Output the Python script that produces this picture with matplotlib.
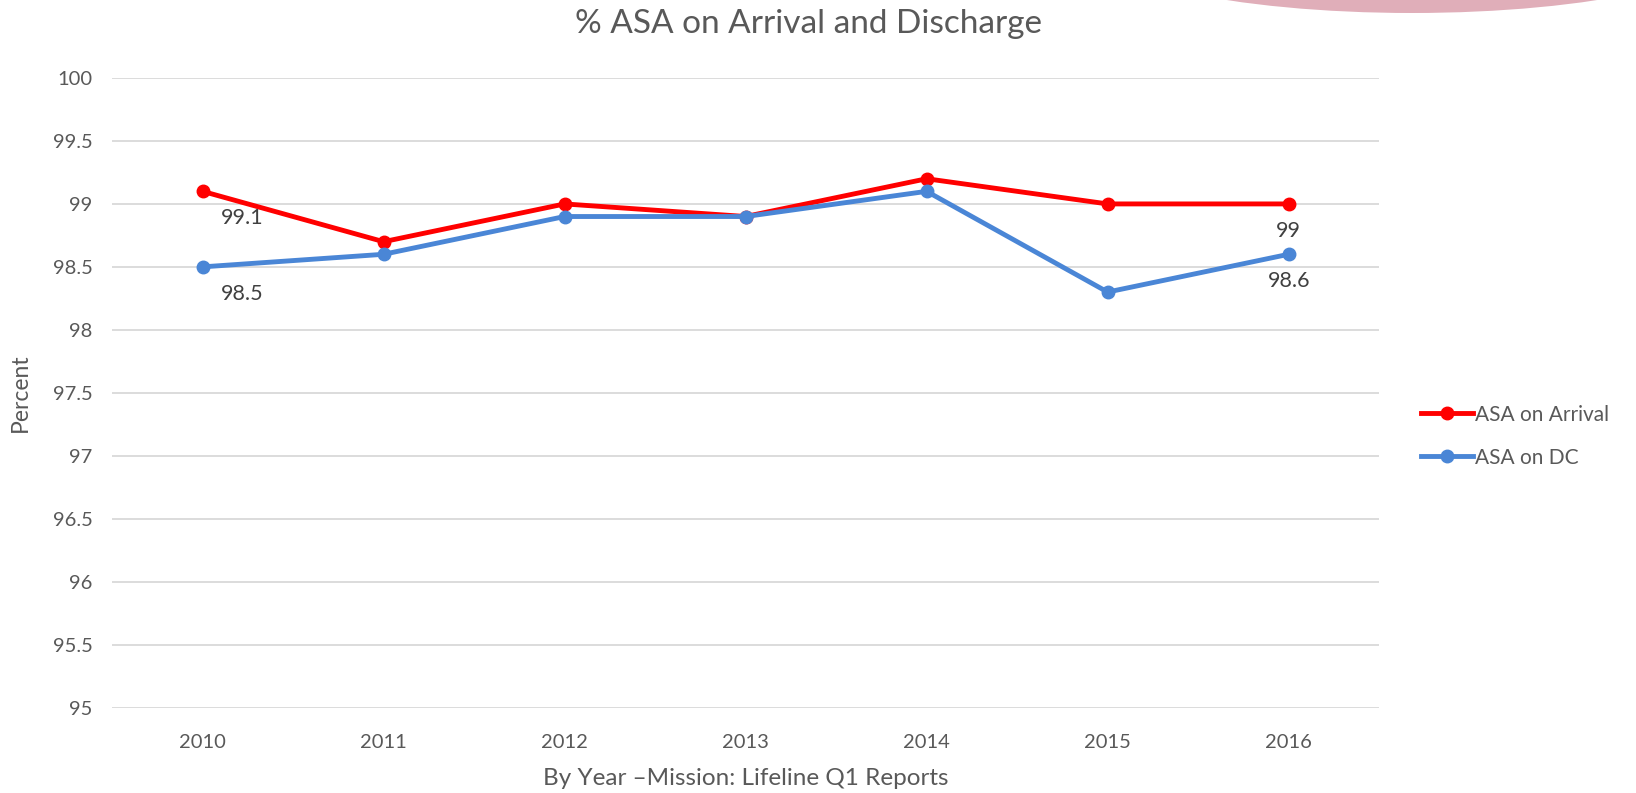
import matplotlib.pyplot as plt
from matplotlib.patches import Ellipse

years = ['2010', '2011', '2012', '2013', '2014', '2015', '2016']
arrival = [99.1, 98.7, 99.0, 98.9, 99.2, 99.0, 99.0]
discharge = [98.5, 98.6, 98.9, 98.9, 99.1, 98.3, 98.6]
y_ticks = [95, 95.5, 96, 96.5, 97, 97.5, 98, 98.5, 99, 99.5, 100]
y_tick_labels = ['95', '95.5', '96', '96.5', '97', '97.5', '98', '98.5', '99', '99.5', '100']

plt.rcParams['font.family'] = ['Lato', 'DejaVu Sans']
txt = '#595959'

fig = plt.figure(figsize=(16.36, 7.93), dpi=100)
ax = fig.add_axes([0.0685, 0.1078, 0.7745, 0.7938])

# pink decoration at top right
fig.patches.append(Ellipse((14.12, 8.55), 6.6, 1.5, transform=fig.dpi_scale_trans,
                           facecolor='#E0AEB9', edgecolor='none', zorder=0))

x = list(range(len(years)))
ax.plot(x, arrival, color='#FF0000', lw=3.5, marker='o', ms=9, label='ASA on Arrival', zorder=3)
ax.plot(x, discharge, color='#4A86D6', lw=3.5, marker='o', ms=9, label='ASA on DC', zorder=3)

# data labels on first and last points
for i in [0, len(years) - 1]:
    dx = 13 if i == 0 else 0
    ha = 'left' if i == 0 else 'center'
    ax.annotate(f'{arrival[i]:g}', (x[i], arrival[i]), xytext=(dx, -12), textcoords='offset points',
                ha=ha, va='top', fontsize=15.5, color='#404040')
    ax.annotate(f'{discharge[i]:g}', (x[i], discharge[i]), xytext=(dx, -12), textcoords='offset points',
                ha=ha, va='top', fontsize=15.5, color='#404040')

ax.set_xlim(-0.5, 6.5)
ax.set_ylim(95, 100)
ax.set_xticks(x)
ax.set_xticklabels(years)
ax.set_yticks(y_ticks)
ax.set_yticklabels(y_tick_labels)
ax.tick_params(length=0, labelsize=14.5, colors=txt, pad=14)
ax.tick_params(axis='x', pad=19)
ax.grid(axis='y', color='#D9D9D9', lw=1.3)
ax.set_axisbelow(True)
for s in ax.spines.values():
    s.set_visible(False)

fig.text(0.494, 0.97, '% ASA on Arrival and Discharge', fontsize=24, color=txt,
         ha='center', va='center')
ax.set_xlabel('By Year \u2013Mission: Lifeline Q1 Reports', fontsize=17.5, color=txt, labelpad=12)
ax.set_ylabel('Percent', fontsize=16.5, color=txt, labelpad=16)

ax.legend(loc='center left', bbox_to_anchor=(0.857, 0.45), bbox_transform=fig.transFigure,
          frameon=False, fontsize=15, labelcolor=txt, handlelength=2.5, handletextpad=0.1,
          labelspacing=1.1)

fig.savefig('out.png', dpi=100)
